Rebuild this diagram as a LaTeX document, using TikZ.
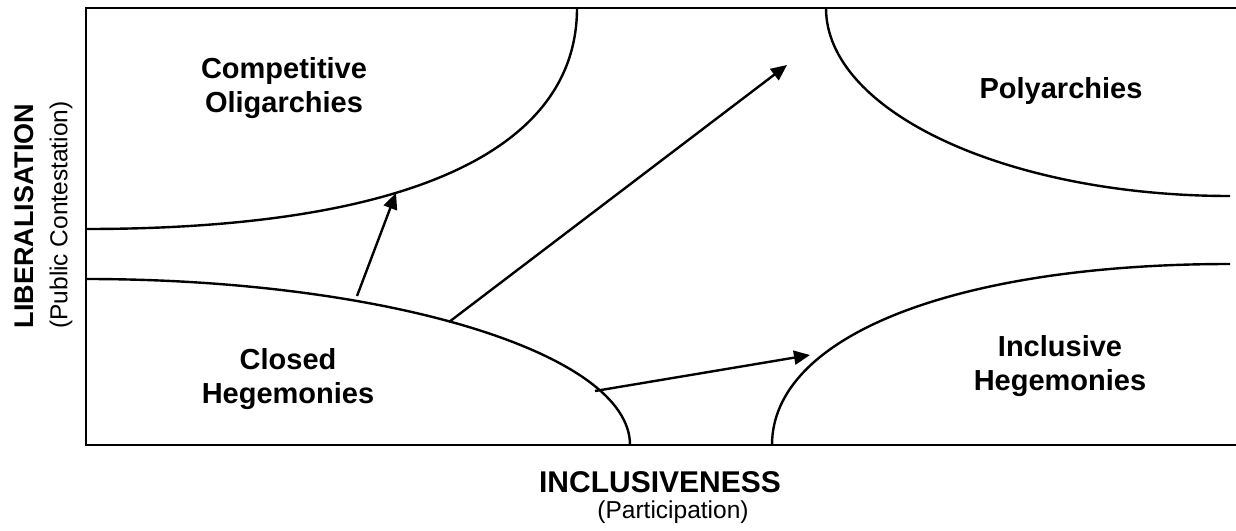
\documentclass[tikz,border=0pt]{standalone}
\usepackage{fontspec}
\setmainfont{Liberation Sans}
\usetikzlibrary{arrows.meta}
\begin{document}
\begin{tikzpicture}[x=1pt,y=-1pt,
  frameline/.style={line width=2.9pt},
  regionline/.style={line width=2.4pt},
  shiftarrow/.style={line width=2.4pt,-{Triangle[length=16pt,width=14pt]}},
  regionlabel/.style={font=\fontsize{29}{34}\selectfont\bfseries,align=center,inner sep=0pt},
  axistitle/.style={font=\fontsize{#1}{#1}\selectfont\bfseries,inner sep=0pt},
  axisnote/.style={font=\fontsize{24.5}{24.5}\selectfont,inner sep=0pt}]
\useasboundingbox (0,0) rectangle (1236,530);

% axes
\draw[frameline] (1236,8) -- (86,8) -- (86,445) -- (1236,445);

% regime regions
\draw[regionline] (86,229) .. controls (405,229) and (577,152) .. (577,8);
\draw[regionline] (86,279) .. controls (386,279) and (630,353) .. (630,445);
\draw[regionline] (826,8) .. controls (826,112) and (1008,196) .. (1230,196);
\draw[regionline] (772,445) .. controls (772,336) and (955,264) .. (1230,264);

% region labels
\node[regionlabel] (co) at (284,88) {Competitive\\Oligarchies};
\node[regionlabel] (pa) at (1061,91) {Polyarchies};
\node[regionlabel] (ch) at (288,379) {Closed\\Hegemonies};
\node[regionlabel] (ih) at (1060,366) {Inclusive\\Hegemonies};

% axis titles
\node[axistitle=30] (xt) at (660,482) {INCLUSIVENESS};
\node[axisnote] (xn) at (673,512) {(Participation)};
\node[axistitle=27,rotate=90] (yt) at (24,216) {LIBERALISATION};
\node[axisnote,rotate=90] (yn) at (61,215) {(Public Contestation)};

% paths of change
\coordinate (liberalise) at (357,296);
\coordinate (toCO) at (396,193);
\coordinate (both) at (449,322);
\coordinate (toPA) at (787,65);
\coordinate (include) at (595,391);
\coordinate (toIH) at (810,355);
\draw[shiftarrow] (liberalise) -- (toCO);
\draw[shiftarrow] (both) -- (toPA);
\draw[shiftarrow] (include) -- (toIH);
\end{tikzpicture}
\end{document}
